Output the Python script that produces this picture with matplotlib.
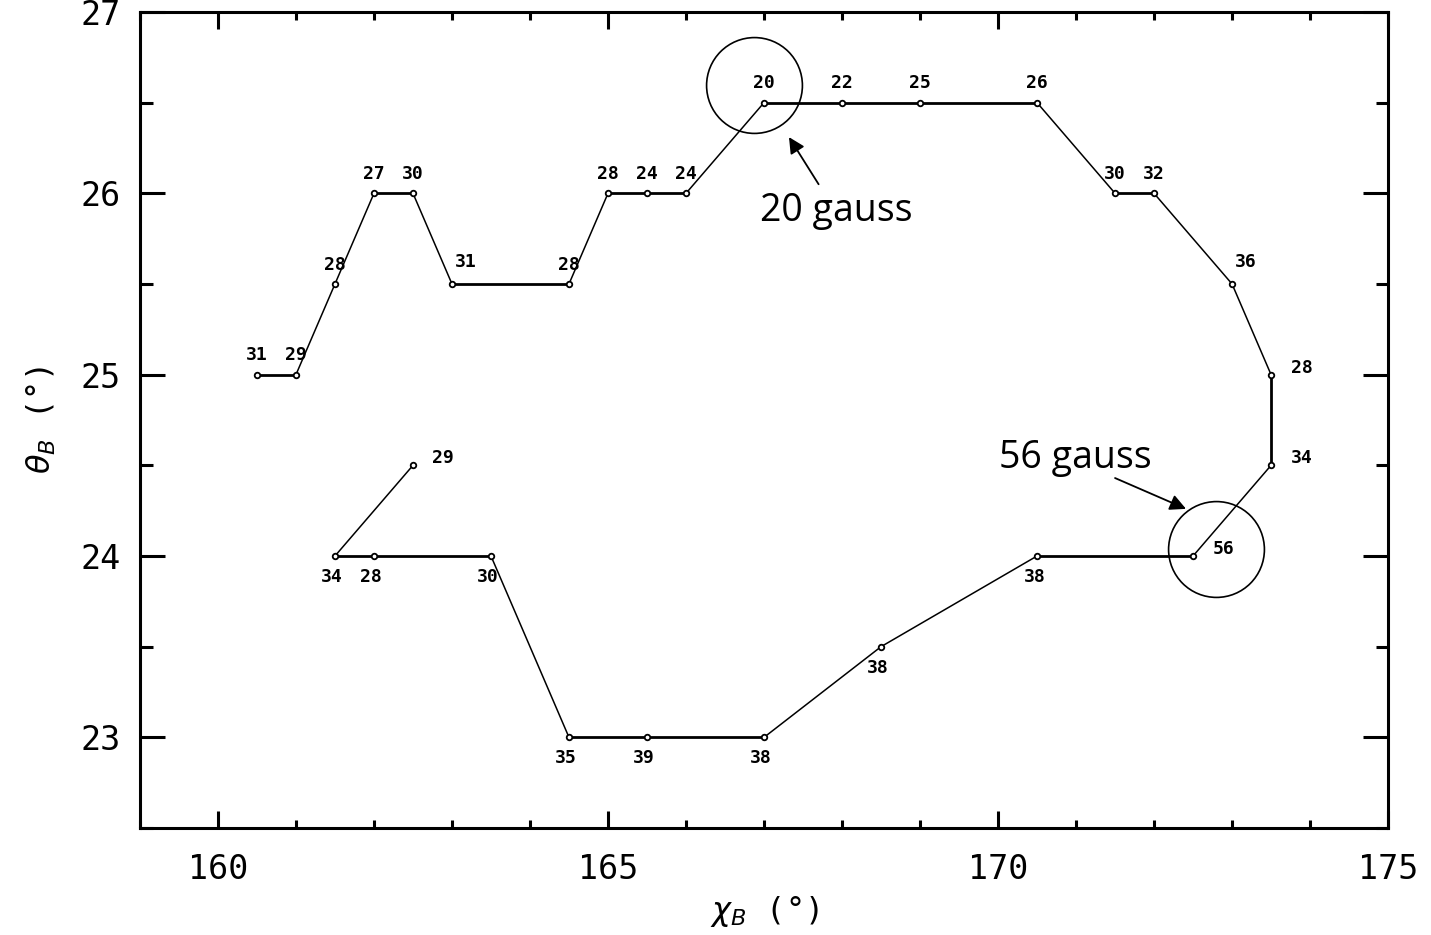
import matplotlib.pyplot as plt
from matplotlib.ticker import MultipleLocator

# chi_B (deg), theta_B (deg) along the scan path, with the value printed at each point
chi = [160.5, 161.0, 161.5, 162.0, 162.5, 163.0, 164.5, 165.0, 165.5, 166.0,
       167.0, 168.0, 169.0, 170.5, 171.5, 172.0, 173.0, 173.5, 173.5, 172.5,
       170.5, 168.5, 167.0, 165.5, 164.5, 163.5, 162.0, 161.5, 162.5]
theta = [25.0, 25.0, 25.5, 26.0, 26.0, 25.5, 25.5, 26.0, 26.0, 26.0,
         26.5, 26.5, 26.5, 26.5, 26.0, 26.0, 25.5, 25.0, 24.5, 24.0,
         24.0, 23.5, 23.0, 23.0, 23.0, 24.0, 24.0, 24.0, 24.5]
labels = ['31', '29', '28', '27', '30', '31', '28', '28', '24', '24',
          '20', '22', '25', '26', '30', '32', '36', '28', '34', '56',
          '38', '38', '38', '39', '35', '30', '28', '34', '29']
# where each label sits: above, below or right of its point
where = ['u', 'u', 'u', 'u', 'u', 'ur', 'u', 'u', 'u', 'u',
         'u', 'u', 'u', 'u', 'u', 'u', 'ur', 'r', 'r', 'r',
         'd', 'd', 'd', 'd', 'd', 'd', 'd', 'd', 'r']

# circled points and their notes
circles = [(166.87, 26.6), (172.8, 24.04)]
notes = ['20 gauss', '56 gauss']
note_xy = [(167.93, 25.9), (170.99, 24.54)]
arrow_from = [(167.7, 26.05), (171.5, 24.43)]
arrow_to = [(167.32, 26.31), (172.41, 24.26)]

fig = plt.figure(figsize=(14.31, 9.35), dpi=100)
ax = fig.add_axes([0.0978, 0.1144, 0.8722, 0.8728])

for i in range(len(chi) - 1):
    straight = chi[i] == chi[i + 1] or theta[i] == theta[i + 1]
    ax.plot(chi[i:i + 2], theta[i:i + 2], color='black',
            lw=2.0 if straight else 1.1, solid_capstyle='butt')
ax.plot(chi, theta, 'o', ms=4, mfc='white', mec='black', mew=1.3)

offsets = {'u': (0, 14), 'd': (-2, -15), 'r': (14, 5), 'ur': (10, 16)}
for x, y, s, w in zip(chi, theta, labels, where):
    dx, dy = offsets[w]
    ax.annotate(s, (x, y), xytext=(dx, dy), textcoords='offset points',
                ha='left' if w == 'r' else 'center', va='center',
                fontsize=13, family='DejaVu Sans Mono', fontweight='bold')

for (cx, cy), txt, (tx, ty), p0, p1 in zip(circles, notes, note_xy, arrow_from, arrow_to):
    ax.plot(cx, cy, 'o', ms=69, mfc='none', mec='black', mew=1.2)
    ax.text(tx, ty, txt, fontsize=27, family='Open Sans', ha='center', va='center')
    ax.annotate('', xy=p1, xytext=p0,
                arrowprops=dict(arrowstyle='-|>', color='black', lw=1.3,
                                mutation_scale=24, shrinkA=0, shrinkB=0))

ax.set_xlim(159, 175)
ax.set_ylim(22.5, 27)
ax.xaxis.set_major_locator(MultipleLocator(5))
ax.xaxis.set_minor_locator(MultipleLocator(1))
ax.yaxis.set_major_locator(MultipleLocator(1))
ax.yaxis.set_minor_locator(MultipleLocator(0.5))
ax.tick_params(which='both', direction='in', top=True, right=True, width=2.2,
               labelsize=24)
ax.tick_params(axis='x', which='major', length=12, pad=18)
ax.tick_params(axis='x', which='minor', length=6)
ax.tick_params(axis='y', which='major', length=18, pad=14)
ax.tick_params(axis='y', which='minor', length=9)
for lab in ax.get_xticklabels() + ax.get_yticklabels():
    lab.set_family('DejaVu Sans Mono')
for sp in ax.spines.values():
    sp.set_linewidth(2.2)

ax.set_xlabel(r'$\chi_B$ (°)', fontsize=23, family='DejaVu Sans Mono', labelpad=6)
ax.set_ylabel(r'$\theta_B$ (°)', fontsize=23, family='DejaVu Sans Mono', labelpad=16)

fig.savefig('out.png', dpi=100)
